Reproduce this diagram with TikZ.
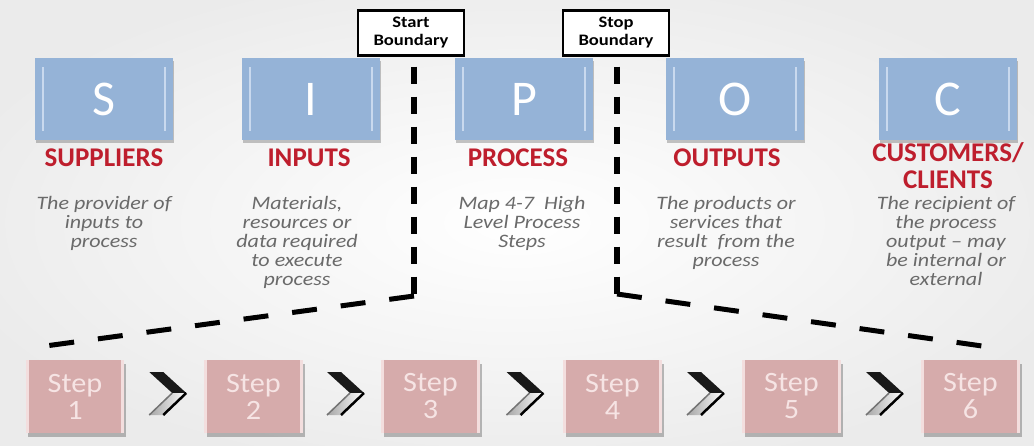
\documentclass[tikz,border=0pt]{standalone}
\usepackage{fontspec}
\setmainfont{Carlito}
\newfontfamily\widefont[FakeStretch=1.16]{Carlito}
\newfontfamily\stepfont[FakeStretch=1.08]{Carlito}
\usetikzlibrary{shadows,calc}
\definecolor{sipocblue}{HTML}{95B3D7}
\definecolor{paleblue}{HTML}{C9D9EE}
\definecolor{lblred}{HTML}{BE1E2D}
\definecolor{descgray}{HTML}{6A6A6A}
\definecolor{steppink}{HTML}{D6ABAB}
\definecolor{stepedge}{HTML}{F3DEDE}
\definecolor{steptext}{HTML}{F6E4E4}
\tikzset{
  sipoc/.style={rectangle, fill=sipocblue, minimum width=138pt, minimum height=82pt, inner sep=0pt,
    text=white, font=\fontsize{50}{50}\selectfont,
    drop shadow={shadow xshift=1pt, shadow yshift=-3pt, fill=black, opacity=0.22}},
  lbl/.style={text=lblred, font=\bfseries\fontsize{27}{27}\selectfont, align=center, inner sep=0pt},
  desc/.style={text=descgray, font=\widefont\itshape\fontsize{19}{19}\selectfont, align=center, inner sep=0pt},
  bndbox/.style={draw=black, line width=2.2pt, fill=white, minimum width=106pt, minimum height=45pt,
    inner sep=0pt, align=center, font=\widefont\bfseries\fontsize{16}{18}\selectfont},
  bndv/.style={line width=6pt, dash pattern=on 17pt off 13pt, dash phase=20pt},
  bndd/.style={line width=5pt, dash pattern=on 25pt off 24pt},
  stepbox/.style={rectangle, fill=steppink, minimum width=98pt, minimum height=73pt, inner sep=0pt,
    text=steptext, align=center, font=\stepfont\fontsize{28}{27}\selectfont,
    drop shadow={shadow xshift=2pt, shadow yshift=-4pt, fill=black, opacity=0.25}},
  stepline/.style={draw=stepedge, line width=3pt},
  innerline/.style={draw=paleblue, line width=1.8pt},
  chev/.pic={
    \fill[black!90] (-15,24.5) -- (-1,24.5) -- (22,3.5) -- (8,3.5) -- cycle;
    \shade[left color=black!35, right color=white] (8,3.5) -- (22,3.5) -- (-1,-18.5) -- (-15,-18.5) -- cycle;
    \draw[black!55, line width=1.5pt] (8,3.5) -- (-15,-18.5);
    \draw[black, line width=2.5pt] (22,3.5) -- (-1,-18.5);
  }
}
\begin{document}
\begin{tikzpicture}[x=1pt,y=1pt]
\useasboundingbox (0,0) rectangle (1034,445);
\shade[inner color=white, outer color=black!8] (-80,-40) rectangle (1114,485);
% SIPOC boxes
\node[sipoc] (S) at (104,346) {S};
\node[sipoc] (I) at (311,346) {I};
\node[sipoc] (P) at (524,346) {P};
\node[sipoc] (O) at (735,346) {O};
\node[sipoc] (C) at (948,346) {C};
\foreach \n in {S,I,P,O,C}{
  \draw[innerline] ([xshift=8pt,yshift=9pt]\n.south west) -- ([xshift=8pt,yshift=-9pt]\n.north west);
  \draw[innerline] ([xshift=-8pt,yshift=9pt]\n.south east) -- ([xshift=-8pt,yshift=-9pt]\n.north east);
}
% labels
\node[lbl] (lS) at (104,287) {SUPPLIERS};
\node[lbl] (lI) at (309,287) {INPUTS};
\node[lbl] (lP) at (518,287) {PROCESS};
\node[lbl] (lO) at (727,287) {OUTPUTS};
\node[lbl, anchor=south] (lC) at (948,256) {CUSTOMERS/\\CLIENTS};
% descriptions
\node[desc, anchor=north] (dS) at (104,249) {The provider of\\inputs to\\process};
\node[desc, anchor=north] (dI) at (297,249) {Materials,\\resources or\\data required\\to execute\\process};
\node[desc, anchor=north] (dP) at (522,249) {Map 4-7~ High\\Level Process\\Steps};
\node[desc, anchor=north] (dO) at (726,249) {The products or\\services that\\result~ from the\\process};
\node[desc, anchor=north] (dC) at (946,249) {The recipient of\\the process\\output – may\\be internal or\\external};
% boundaries
\node[bndbox] (start) at (411,412) {Start\\Boundary};
\node[bndbox] (stop) at (616,412) {Stop\\Boundary};
\coordinate (c1) at (414,149);
\coordinate (e1) at (38,98);
\coordinate (c2) at (617,151);
\coordinate (e2) at (989,98);
\draw[bndv] (start.south -| c1) -- (c1);
\draw[bndd] (c1) -- (e1);
\draw[bndv] (stop.south -| c2) -- (c2);
\draw[bndd] (c2) -- (e2);
% steps
\node[stepbox] (s1) at (75,48.5) {Step\\1};
\node[stepbox] (s2) at (253.5,48.5) {Step\\2};
\node[stepbox] (s3) at (430.5,48.5) {Step\\3};
\node[stepbox] (s4) at (612.5,48.5) {Step\\4};
\node[stepbox] (s5) at (791.5,48.5) {Step\\5};
\node[stepbox] (s6) at (970.5,48.5) {Step\\6};
\foreach \n in {s1,s2,s3,s4,s5,s6}{
  \draw[stepline] ([xshift=1.5pt]\n.south west) -- ([xshift=1.5pt]\n.north west);
  \draw[stepline] ([xshift=-1.5pt]\n.south east) -- ([xshift=-1.5pt]\n.north east);
}
\foreach \a/\b in {s1/s2,s2/s3,s3/s4,s4/s5,s5/s6}{
  \pic at ($(\a.east)!0.5!(\b.west)$) {chev};
}
\end{tikzpicture}
\end{document}
